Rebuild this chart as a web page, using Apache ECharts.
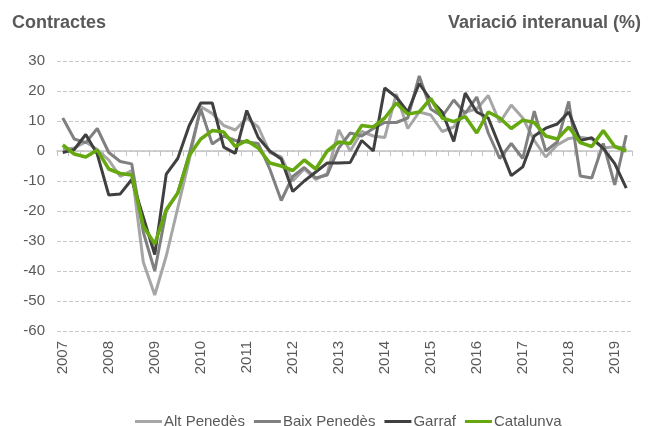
<!DOCTYPE html>
<html>
<head>
<meta charset="utf-8">
<script src="https://cdn.jsdelivr.net/npm/echarts@6/dist/echarts.min.js"></script>
<style>
  html, body { margin: 0; padding: 0; background: #fff; }
  #chart { width: 653px; height: 426px; }
</style>
</head>
<body>
<div id="chart"></div>
<script>
// trimestres 2007-T1 .. 2019-T2
const quarters = [];
for (let y = 2007; y <= 2019; y++) {
  for (let q = 1; q <= 4; q++) {
    if (y === 2019 && q > 2) break;
    quarters.push(y + '-T' + q);
  }
}

const altPenedes = [0.5, 1, 3, 0.5, -3, -8.5, -6.5, -37, -48, -35, -19, -3,
  14.8, 12.5, 8.5, 7, 11, 8, -0.5, -2, -10, -6, -9.5, -7.5,
  7, 0, 6.5, 5, 4.5, 19, 7.5, 13, 12, 6.5, 8, 13,
  14, 18.5, 9.5, 15.3, 11, 3.5, -2, 2, 4.2, 4.6, 4, 1, 1.4, 1];

const baixPenedes = [11, 4, 2.8, 7.5, -0.5, -3.5, -4.3, -27, -40, -20, -14, -1,
  14, 2.3, 5, 3.5, 3, 2.5, -6, -16.5, -8.5, -5.5, -9, -8,
  1, 6, 5, 7.5, 9.5, 9.5, 11, 25, 14, 11.5, 17, 12.5,
  18, 6, -2.5, 2.5, -2.5, 13.3, 0, 3, 16.5, -8.3, -9, 2.5, -11.3, 5.3];

const garraf = [-0.5, 0.5, 5.5, -1, -14.7, -14.3, -9.5, -22, -34.5, -7.7, -2.5, 8.5,
  16, 16, 1.3, -0.8, 13.5, 4.5, 0, -2.7, -13.5, -10, -7, -4,
  -4, -3.8, 3.5, 0, 21, 18, 13, 22.5, 17, 13, 3.2, 19.3,
  13, 11, 1.4, -8.2, -5.3, 5, 7.6, 9, 13, 3.5, 4.4, 0.9, -4.2, -12.4];

const catalunya = [2, -1, -2, 0.3, -6, -7.5, -8, -25, -31, -19.5, -14, -1.5,
  4, 6.8, 6.3, 1.5, 3.5, 1, -4, -5, -6.5, -3, -6, 0,
  3, 2.5, 8.5, 8, 11, 16, 12.3, 13, 17.5, 11, 9.8, 11.5,
  6, 13, 11, 7.5, 10.3, 9.5, 5, 4, 8, 2.8, 1.5, 6.8, 1.5, 0];

const names = ['Alt Penedès', 'Baix Penedès', 'Garraf', 'Catalunya'];
const colors = ['#a6a6a6', '#808080', '#404040', '#66a80f'];
const values = [altPenedes, baixPenedes, garraf, catalunya];

const font = '"Liberation Sans", Arial, sans-serif';
const txt = '#595959';

const chart = echarts.init(document.getElementById('chart'));
chart.setOption({
  animation: false,
  textStyle: { fontFamily: font },
  title: [
    { text: 'Contractes', left: 7, top: 9,
      textStyle: { fontSize: 18, fontWeight: 'bold', color: txt, fontFamily: font } },
    { text: 'Variació interanual (%)', right: 7, top: 9,
      textStyle: { fontSize: 18, fontWeight: 'bold', color: txt, fontFamily: font } }
  ],
  grid: { left: 57, right: 21, top: 61, bottom: 95 },
  legend: {
    data: names,
    left: 130,
    top: 409,
    icon: 'rect',
    itemWidth: 27,
    itemHeight: 3,
    itemGap: 9,
    textStyle: { fontSize: 15, color: txt, fontFamily: font, padding: [0, 0, 0, -3] }
  },
  xAxis: [
    {
      type: 'category',
      data: quarters,
      position: 'bottom',
      boundaryGap: true,
      axisLine: { onZero: true, lineStyle: { color: '#c4c4c4', width: 1.5 } },
      axisTick: { show: true, interval: 0, length: 5, lineStyle: { color: '#c4c4c4' } },
      axisLabel: { show: false },
      splitLine: { show: false }
    },
    {
      type: 'category',
      data: quarters,
      position: 'bottom',
      boundaryGap: true,
      axisLine: { show: false, onZero: false },
      axisTick: { show: false },
      axisLabel: {
        interval: 3,
        rotate: 90,
        margin: 10,
        fontSize: 15,
        color: txt,
        fontFamily: font,
        formatter: v => v.slice(0, 4)
      },
      splitLine: { show: false }
    }
  ],
  yAxis: {
    type: 'value',
    min: -60,
    max: 30,
    interval: 10,
    axisLine: { show: false },
    axisTick: { show: false },
    axisLabel: { fontSize: 15, color: txt, margin: 12, fontFamily: font },
    splitLine: { lineStyle: { color: '#c8c8c8', type: 'dashed', width: 1 } }
  },
  series: names.map((n, i) => ({
    name: n,
    type: 'line',
    data: values[i],
    xAxisIndex: 0,
    symbol: 'none',
    color: colors[i],
    lineStyle: { width: i === 3 ? 3.5 : 3, color: colors[i] },
    z: 2 + i
  }))
});
</script>
</body>
</html>
